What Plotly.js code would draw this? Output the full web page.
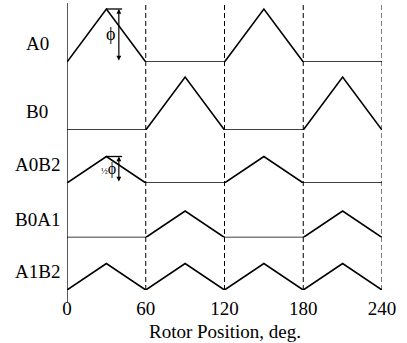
<!DOCTYPE html>
<html>
<head>
<meta charset="utf-8">
<script src="https://cdn.plot.ly/plotly-3.0.1.min.js"></script>
<style>html,body{margin:0;padding:0;background:#fff;}#chart{width:407px;height:343px;}</style>
</head>
<body>
<div id="chart"></div>
<script>
// ---- data ----
const rowNames = ["A0", "B0", "A0B2", "B0A1", "A1B2"];
const positions = [0, 30, 60, 90, 120, 150, 180, 210, 240];
const A0   = [0, 1,   0, 0,   0, 1,   0, 0,   0];
const B0   = [0, 0,   0, 1,   0, 0,   0, 1,   0];
const A0B2 = [0, 0.5, 0, 0,   0, 0.5, 0, 0,   0];
const B0A1 = [0, 0,   0, 0.5, 0, 0,   0, 0.5, 0];
const A1B2 = [0, 0.5, 0, 0.5, 0, 0.5, 0, 0.5, 0];
const tickVals = [0, 60, 120, 180, 240];
const tickText = ["0", "60", "120", "180", "240"];
const series = [A0, B0, A0B2, B0A1, A1B2];

// ---- layout geometry (pixels) ----
const W = 407, H = 343, ML = 67, MR = 25, MT = 3, MB = 53;
const plotH = H - MT - MB;           // 287
const bottomPx = H - MB;             // 290
const baselinePx = [62, 130, 183, 237.5, 290];
const topPx = [MT, 62, 130, 183, 237.5];
const pxPerUnit = 53;
const FONT = "Liberation Serif, Times New Roman, serif";
const FS = 19;

const traces = [];
const layout = {
  width: W, height: H,
  margin: {l: ML, r: MR, t: MT, b: MB},
  paper_bgcolor: "#fff", plot_bgcolor: "#fff",
  showlegend: false,
  font: {family: FONT, size: FS, color: "#000"},
  xaxis: {
    range: [0, 240], anchor: "y5", showgrid: false, zeroline: false, showline: false,
    tickvals: tickVals, ticktext: tickText, ticks: "outside", ticklen: 1,
    tickcolor: "rgba(0,0,0,0)", tickfont: {family: FONT, size: FS, color: "#000"}
  },
  shapes: [], annotations: []
};

const toPaper = px => (bottomPx - px) / plotH;

rowNames.forEach((name, i) => {
  const axName = i === 0 ? "y" : "y" + (i + 1);
  const layKey = i === 0 ? "yaxis" : "yaxis" + (i + 1);
  layout[layKey] = {
    domain: [toPaper(baselinePx[i]), toPaper(topPx[i])],
    range: [0, (baselinePx[i] - topPx[i]) / pxPerUnit],
    anchor: "x", showgrid: false, zeroline: false, showline: false,
    showticklabels: false, ticks: ""
  };
  traces.push({
    x: positions, y: series[i], xaxis: "x", yaxis: axName,
    type: "scatter", mode: "lines", line: {color: "#000", width: 1.6}, hoverinfo: "skip"
  });
  layout.annotations.push({
    text: name, xref: "paper", yref: axName, x: (37 - ML) / (W - ML - MR), y: 0.34,
    xanchor: "center", yanchor: "middle", showarrow: false,
    font: {family: FONT, size: FS, color: "#000"}
  });
});

// dashed verticals
[60, 120, 180, 240].forEach(v => {
  layout.shapes.push({type: "line", xref: "x", yref: "paper", x0: v, x1: v, y0: 0, y1: 1,
    line: {color: "#000", width: 1, dash: "5px,3px"}});
});
// left solid vertical
layout.shapes.push({type: "line", xref: "x", yref: "paper", x0: 0, x1: 0, y0: toPaper(302), y1: 1,
  line: {color: "#000", width: 1.3}});

// phi dimension markers
const dims = [{ax: "y", h: 1, label: "ϕ", lx: 33, ly: 0.53, size: 18},
              {ax: "y3", h: 0.5, label: "<span style='font-size:9px'>½</span>ϕ", lx: 31.5, ly: 0.26, size: 16}];
dims.forEach(d => {
  layout.shapes.push({type: "line", xref: "x", yref: d.ax, x0: 30, x1: 42, y0: d.h, y1: d.h,
    line: {color: "#000", width: 1.3}});
  layout.annotations.push({text: "", xref: "x", yref: d.ax, x: 39.5, y: d.h, axref: "x", ayref: d.ax,
    ax: 39.5, ay: 0, showarrow: true, arrowhead: 2, startarrowhead: 2, arrowside: "end+start",
    arrowsize: 0.8, startarrowsize: 0.8, arrowwidth: 1.2, arrowcolor: "#000", standoff: 0, startstandoff: 0});
  layout.annotations.push({text: d.label, xref: "x", yref: d.ax, x: d.lx, y: d.ly,
    xanchor: "center", yanchor: "middle", showarrow: false,
    font: {family: FONT, size: d.size, color: "#000"}});
});

// axis title
layout.annotations.push({text: "Rotor Position, deg.", xref: "paper", yref: "paper",
  x: 0.5, y: toPaper(331), xanchor: "center", yanchor: "middle", showarrow: false,
  font: {family: FONT, size: FS, color: "#000"}});

Plotly.newPlot("chart", traces, layout, {displayModeBar: false, staticPlot: true});
</script>
</body>
</html>
